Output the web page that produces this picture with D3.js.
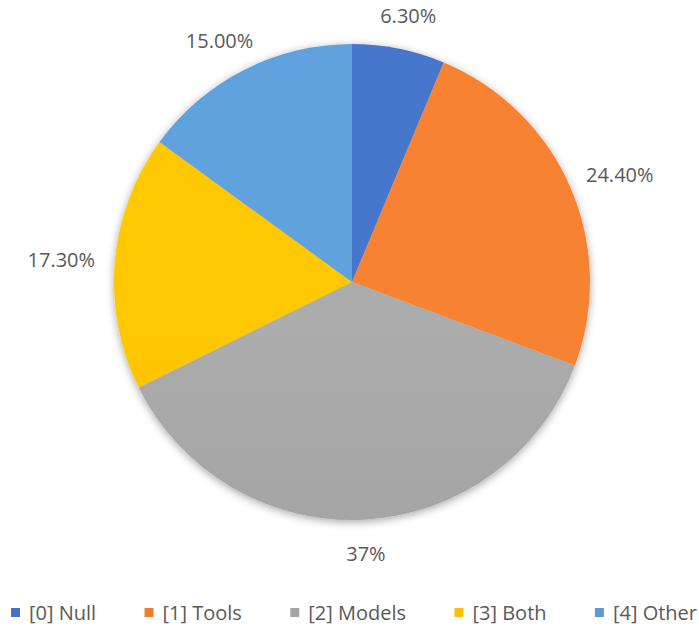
<!DOCTYPE html>
<html>
<head>
<meta charset="utf-8">
<script src="https://cdn.jsdelivr.net/npm/d3@7"></script>
<style>
  html, body { margin: 0; padding: 0; background: #fff; }
  svg { display: block; font-family: "Open Sans", "DejaVu Sans", sans-serif; }
</style>
</head>
<body>
<svg id="chart" width="699" height="630"></svg>
<script>
// chart data
const categories = ["[0] Null", "[1] Tools", "[2] Models", "[3] Both", "[4] Other"];
const shares = [6.3, 24.4, 37, 17.3, 15];
const valueLabels = ["6.30%", "24.40%", "37%", "17.30%", "15.00%"];
const colors = ["#4472C4", "#ED7D31", "#A5A5A5", "#FFC000", "#5B9BD5"];

const svg = d3.select("#chart");
const width = 699, height = 630;
const cx = 352, cy = 282, radius = 238;

const defs = svg.append("defs");

const shadow = defs.append("filter")
    .attr("id", "pieShadow")
    .attr("x", "-20%").attr("y", "-20%")
    .attr("width", "140%").attr("height", "140%");
shadow.append("feDropShadow")
    .attr("dx", 0).attr("dy", 2)
    .attr("stdDeviation", 4)
    .attr("flood-color", "#000")
    .attr("flood-opacity", 0.35);

// soft vertical shading per slice, like the office theme
defs.selectAll("linearGradient")
    .data(colors)
    .enter().append("linearGradient")
    .attr("id", (d, i) => "grad" + i)
    .attr("gradientUnits", "userSpaceOnUse")
    .attr("x1", 0).attr("y1", cy - radius)
    .attr("x2", 0).attr("y2", cy + radius)
    .selectAll("stop")
    .data(c => [
        { offset: "0%", color: d3.color(c).brighter(0.12) },
        { offset: "100%", color: d3.color(c).darker(0.18) }
    ])
    .enter().append("stop")
    .attr("offset", d => d.offset)
    .attr("stop-color", d => d.color);

const pie = d3.pie().sort(null).value(d => d);
const arcs = pie(shares);
const arc = d3.arc().innerRadius(0).outerRadius(radius);

const g = svg.append("g").attr("transform", `translate(${cx},${cy})`);

g.append("g")
    .attr("filter", "url(#pieShadow)")
    .selectAll("path")
    .data(arcs)
    .enter().append("path")
    .attr("d", arc)
    .attr("fill", (d, i) => `url(#grad${i})`);

// data labels, outside end
const labels = g.selectAll(".lbl")
    .data(arcs)
    .enter().append("text")
    .attr("class", "lbl")
    .attr("font-size", 20)
    .attr("fill", "#595959")
    .attr("text-anchor", "middle")
    .attr("dominant-baseline", "central")
    .text((d, i) => valueLabels[i]);

labels.each(function(d) {
    const a = (d.startAngle + d.endAngle) / 2;
    const r = radius + 20;
    const bb = this.getBBox();
    const x = r * Math.sin(a) + Math.sin(a) * bb.width / 2;
    const y = -r * Math.cos(a) - Math.cos(a) * bb.height / 2;
    d3.select(this).attr("x", x).attr("y", y);
});

// legend
const legend = svg.append("g").attr("class", "legend");
const items = legend.selectAll("g")
    .data(categories)
    .enter().append("g");

items.append("rect")
    .attr("width", 9).attr("height", 9)
    .attr("y", -4)
    .attr("fill", (d, i) => colors[i]);

items.append("text")
    .attr("x", 18)
    .attr("font-size", 20)
    .attr("fill", "#595959")
    .attr("dominant-baseline", "central")
    .text(d => d);

const widths = [];
items.each(function() { widths.push(this.getBBox().width); });
const left = 11, right = 697;
const gap = (right - left - d3.sum(widths)) / (widths.length - 1);
let pos = left;
const offsets = widths.map(w => { const p = pos; pos += w + gap; return p; });
items.attr("transform", (d, i) => `translate(${offsets[i]},612)`);
</script>
</body>
</html>
